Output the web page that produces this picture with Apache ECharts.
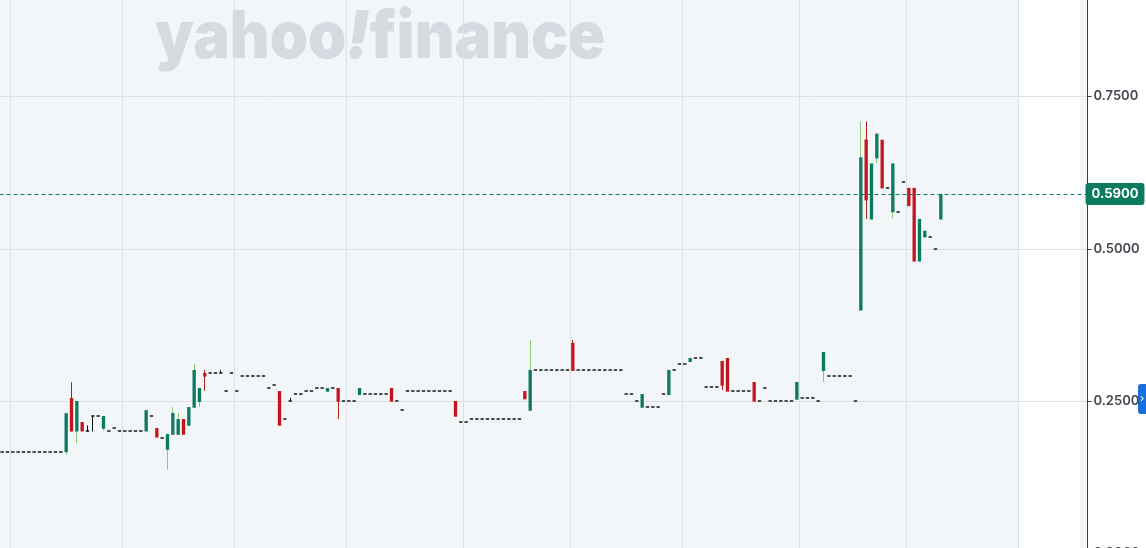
<!DOCTYPE html>
<html><head><meta charset="utf-8">
<script src="https://cdn.jsdelivr.net/npm/echarts@6/dist/echarts.min.js"></script>
<style>html,body{margin:0;padding:0;background:#fff}#c{width:1146px;height:548px}</style>
</head><body><div id="c"></div>
<script>
// ---- data (daily candles, index = trading-day slot) ----
const SLOT_COUNT = 204;
const monthStarts = [2, 23, 44, 65, 87, 107, 128, 150, 170, 191];
const yTicks = [0, 0.25, 0.5, 0.75];
const lastPrice = 0.59;

const opens = [
  0.166,0.166,0.166,0.166,0.166,0.166,0.166,0.166,0.166,0.166,
  0.166,0.166,0.166,0.255,0.200,0.2155,0.200,0.225,0.225,0.2045,
  0.200,0.205,0.200,0.200,0.200,0.200,0.200,0.200,0.225,0.2056,
  0.190,0.170,0.1946,0.1946,0.2204,0.2094,0.239,0.2484,0.2961,0.2956,
  0.2956,0.2956,0.266,0.2956,0.266,0.2911,0.2911,0.2911,0.2911,0.2911,
  0.2709,0.2763,0.2664,0.2199,0.2496,0.2615,0.2615,0.266,0.266,0.2709,
  0.2709,0.2653,0.2709,0.2714,0.2496,0.2496,0.2496,0.2599,0.2615,0.2615,
  0.2615,0.2615,0.2615,0.2714,0.2496,0.2347,0.266,0.266,0.266,0.266,
  0.266,0.266,0.266,0.266,0.266,0.250,0.2155,0.2155,0.2199,0.2199,
  0.2199,0.2199,0.2199,0.2199,0.2199,0.2199,0.2199,0.2199,0.2664,0.234,
  0.3005,0.3005,0.3005,0.3005,0.3005,0.3005,0.3005,0.3454,0.3005,0.3005,
  0.3005,0.3005,0.3005,0.3005,0.3005,0.3005,0.3005,0.2615,0.2615,0.250,
  0.239,0.2396,0.2396,0.2396,0.2615,0.2599,0.3005,0.3104,0.3104,0.3141,
  0.3202,0.3202,0.2725,0.2725,0.2725,0.3158,0.3207,0.266,0.266,0.266,
  0.266,0.2812,0.2496,0.2709,0.2496,0.2496,0.2496,0.2496,0.2496,0.2521,
  0.2544,0.2544,0.2544,0.2496,0.2993,0.2906,0.2906,0.2906,0.2906,0.2906,
  0.2496,0.3986,0.6793,0.548,0.6485,0.679,0.600,0.560,0.5604,0.6097,
  0.600,0.600,0.479,0.5186,0.5192,0.500,0.548
];
const closes = [
  0.166,0.166,0.166,0.166,0.166,0.166,0.166,0.166,0.166,0.166,
  0.166,0.166,0.230,0.200,0.250,0.200,0.200,0.225,0.225,0.2253,
  0.200,0.205,0.200,0.200,0.200,0.200,0.200,0.235,0.225,0.190,
  0.190,0.1957,0.2303,0.2204,0.1946,0.240,0.301,0.2714,0.290,0.2956,
  0.2956,0.2956,0.266,0.2956,0.266,0.2911,0.2911,0.2911,0.2911,0.2911,
  0.2709,0.2763,0.2094,0.2199,0.2496,0.2615,0.2615,0.266,0.266,0.2709,
  0.2709,0.2714,0.2709,0.2489,0.2496,0.2496,0.2496,0.2714,0.2615,0.2615,
  0.2615,0.2615,0.2615,0.2489,0.2496,0.2347,0.266,0.266,0.266,0.266,
  0.266,0.266,0.266,0.266,0.266,0.2242,0.2155,0.2155,0.2199,0.2199,
  0.2199,0.2199,0.2199,0.2199,0.2199,0.2199,0.2199,0.2199,0.2528,0.301,
  0.3005,0.3005,0.3005,0.3005,0.3005,0.3005,0.3005,0.2993,0.3005,0.3005,
  0.3005,0.3005,0.3005,0.3005,0.3005,0.3005,0.3005,0.2615,0.2615,0.250,
  0.2615,0.2396,0.2396,0.2396,0.2615,0.301,0.3005,0.3104,0.3104,0.3207,
  0.3202,0.3202,0.2725,0.2725,0.2725,0.2752,0.2653,0.266,0.266,0.266,
  0.266,0.2489,0.2496,0.2709,0.2496,0.2496,0.2496,0.2496,0.2496,0.2812,
  0.2544,0.2544,0.2544,0.2496,0.3306,0.2906,0.2906,0.2906,0.2906,0.2906,
  0.2496,0.650,0.5794,0.640,0.689,0.599,0.600,0.640,0.5604,0.6097,
  0.570,0.479,0.549,0.5296,0.5192,0.500,0.590
];
const lows = [
  0.166,0.166,0.166,0.166,0.166,0.166,0.166,0.166,0.166,0.166,
  0.166,0.166,0.162,0.200,0.181,0.200,0.200,0.200,0.225,0.201,
  0.200,0.205,0.200,0.200,0.200,0.200,0.200,0.200,0.225,0.190,
  0.190,0.137,0.1946,0.1946,0.1946,0.2094,0.239,0.240,0.267,0.2956,
  0.2956,0.2956,0.266,0.2956,0.266,0.2911,0.2911,0.2911,0.2911,0.2911,
  0.2709,0.2763,0.2094,0.2199,0.2496,0.2615,0.2615,0.266,0.266,0.2709,
  0.2709,0.2653,0.2709,0.2204,0.2496,0.2496,0.2496,0.2599,0.2615,0.2615,
  0.2615,0.2615,0.2615,0.2489,0.2496,0.2347,0.266,0.266,0.266,0.266,
  0.266,0.266,0.266,0.266,0.266,0.2242,0.2155,0.2155,0.2199,0.2199,
  0.2199,0.2199,0.2199,0.2199,0.2199,0.2199,0.2199,0.2199,0.2528,0.234,
  0.3005,0.3005,0.3005,0.3005,0.3005,0.3005,0.3005,0.2993,0.3005,0.3005,
  0.3005,0.3005,0.3005,0.3005,0.3005,0.3005,0.3005,0.2615,0.2615,0.250,
  0.239,0.2396,0.2396,0.2396,0.2615,0.2599,0.3005,0.3104,0.3104,0.3141,
  0.3202,0.3202,0.2725,0.2725,0.2725,0.268,0.2653,0.266,0.266,0.266,
  0.266,0.2489,0.2496,0.2709,0.2496,0.2496,0.2496,0.2496,0.2496,0.2521,
  0.2544,0.2544,0.2544,0.2496,0.281,0.2906,0.2906,0.2906,0.2906,0.2906,
  0.2496,0.3986,0.549,0.548,0.641,0.599,0.600,0.550,0.5604,0.6097,
  0.570,0.479,0.479,0.5186,0.5192,0.500,0.548
];
const highs = [
  0.166,0.166,0.166,0.166,0.166,0.166,0.166,0.166,0.166,0.166,
  0.166,0.166,0.230,0.281,0.250,0.2155,0.210,0.225,0.225,0.2253,
  0.200,0.205,0.200,0.200,0.200,0.200,0.200,0.235,0.225,0.2056,
  0.190,0.1957,0.240,0.2303,0.2204,0.240,0.311,0.2714,0.301,0.2956,
  0.2956,0.3005,0.266,0.2956,0.266,0.2911,0.2911,0.2911,0.2911,0.2911,
  0.2709,0.2763,0.2664,0.2199,0.2554,0.2615,0.2615,0.266,0.266,0.2709,
  0.2709,0.2714,0.2709,0.2714,0.2496,0.2496,0.2496,0.2714,0.2615,0.2615,
  0.2615,0.2615,0.2615,0.2714,0.2496,0.2347,0.266,0.266,0.266,0.266,
  0.266,0.266,0.266,0.266,0.266,0.250,0.2155,0.2155,0.2199,0.2199,
  0.2199,0.2199,0.2199,0.2199,0.2199,0.2199,0.2199,0.2199,0.2664,0.350,
  0.3005,0.3005,0.3005,0.3005,0.3005,0.3005,0.3005,0.350,0.3005,0.3005,
  0.3005,0.3005,0.3005,0.3005,0.3005,0.3005,0.3005,0.2615,0.2615,0.250,
  0.2615,0.2396,0.2396,0.2396,0.2615,0.301,0.3005,0.3104,0.3104,0.3207,
  0.3202,0.3202,0.2725,0.2725,0.2725,0.3158,0.3207,0.266,0.266,0.266,
  0.266,0.2812,0.2496,0.2709,0.2496,0.2496,0.2496,0.2496,0.2496,0.2812,
  0.2544,0.2544,0.2544,0.2496,0.3306,0.2906,0.2906,0.2906,0.2906,0.2906,
  0.2496,0.709,0.709,0.640,0.689,0.679,0.600,0.640,0.5604,0.6097,
  0.600,0.600,0.549,0.5296,0.5192,0.500,0.590
];

// ---- styling ----
const UP = '#0b7a5f', DOWN = '#c3161c', UP_WICK = '#8cc87c', DOWN_WICK = '#b0231a', FLAT = '#151515';
const GRID_LEFT = -0.5, GRID_W = 1088, GRID_TOP = -1, GRID_H = 554.3;
const Y_MAX = (GRID_H + GRID_TOP) / 608;

const categories = [];
for (let i = 0; i < SLOT_COUNT; i++) categories.push('d' + i);
const seriesData = opens.map((o, i) => [i, o, closes[i], lows[i], highs[i]]);

function renderItem(params, api) {
  const i = api.value(0), o = api.value(1), c = api.value(2), l = api.value(3), h = api.value(4);
  const pO = api.coord([i, o]), pC = api.coord([i, c]), pL = api.coord([i, l]), pH = api.coord([i, h]);
  const bw = api.size([1, 0])[0] * 0.62;
  const xc = pO[0];
  const xw = Math.floor(xc) + 0.5;
  let body, wick;
  if (c > o) { body = UP; wick = UP_WICK; }
  else if (c < o) { body = DOWN; wick = DOWN_WICK; }
  else { body = FLAT; wick = FLAT; }
  const children = [];
  if (h > Math.max(o, c) || l < Math.min(o, c)) {
    children.push({ type: 'line', shape: { x1: xw, y1: pH[1], x2: xw, y2: pL[1] },
      style: { stroke: wick, lineWidth: 1 } });
  }
  if (c === o) {
    children.push({ type: 'rect', shape: { x: xc - bw / 2, y: Math.round(pO[1]) - 0.75, width: bw, height: 1.5 },
      style: { fill: FLAT } });
  } else {
    const top = Math.min(pO[1], pC[1]), bot = Math.max(pO[1], pC[1]);
    children.push({ type: 'rect', shape: { x: xc - bw / 2, y: top, width: bw, height: Math.max(1, bot - top) },
      style: { fill: body } });
  }
  return { type: 'group', children };
}

const chart = echarts.init(document.getElementById('c'), null, { renderer: 'canvas' });
chart.setOption({
  backgroundColor: '#ffffff',
  animation: false,
  grid: { left: GRID_LEFT, top: GRID_TOP, width: GRID_W, height: GRID_H, containLabel: false, outerBoundsMode: 'none' },
  xAxis: {
    type: 'category', data: categories, boundaryGap: true,
    axisLine: { show: false }, axisTick: { show: false }, axisLabel: { show: false },
    splitLine: { show: true, interval: (idx) => monthStarts.indexOf(idx) >= 0, lineStyle: { color: '#dde1e6', width: 1 } }
  },
  yAxis: {
    type: 'value', position: 'right', min: yTicks[0], max: Y_MAX, interval: yTicks[1] - yTicks[0],
    axisLine: { show: true, lineStyle: { color: '#3a4046', width: 1 } },
    axisTick: { show: true, length: 4, lineStyle: { color: '#3a4046' } },
    axisLabel: { show: true, margin: 6, showMaxLabel: false, color: '#41484f', fontFamily: 'Inter', fontSize: 13, fontWeight: 600,
      formatter: v => v.toFixed(4) },
    splitLine: { show: true, lineStyle: { color: '#dde1e6', width: 1 } }
  },
  graphic: [
    { type: 'rect', z: -10, shape: { x: 0, y: 0, width: 1018, height: 548 }, style: { fill: '#f3f6f9' } },
    { type: 'rect', z: -10, shape: { x: 1080, y: 0, width: 7, height: 548 }, style: { fill: '#f5f8fb' } },
    { type: 'text', z: -5, x: 155, y: 5, scaleX: 0.93,
      style: { text: '{a|yahoo}{b|!}{a|finance}', verticalAlign: 'top',
        rich: {
          a: { font: '900 66px Inter', fill: '#d6dbe2' },
          b: { font: 'italic 900 66px Inter', fill: '#d6dbe2' }
        } } },
    { type: 'rect', shape: { x: 1138, y: 384, width: 10, height: 30, r: [3, 0, 0, 3] }, style: { fill: '#1a6ede' } },
    { type: 'text', x: 1142, y: 399, style: { text: '›', fill: '#ffffff', font: '11px Inter', align: 'center', verticalAlign: 'middle' } }
  ],
  series: [{
    type: 'custom', renderItem, data: seriesData, encode: { x: 0, y: [1, 2, 3, 4] }, z: 5,
    markLine: {
      silent: true, symbol: 'none', animation: false,
      lineStyle: { color: '#0e7d62', type: [4, 3], width: 1 },
      label: { position: 'end', distance: -2, formatter: () => lastPrice.toFixed(4), color: '#ffffff',
        backgroundColor: '#0b7a5f', padding: [5, 6, 4, 6], borderRadius: 3, fontFamily: 'Inter', fontSize: 13, fontWeight: 700 },
      data: [{ yAxis: lastPrice }]
    }
  }]
});
</script></body></html>
